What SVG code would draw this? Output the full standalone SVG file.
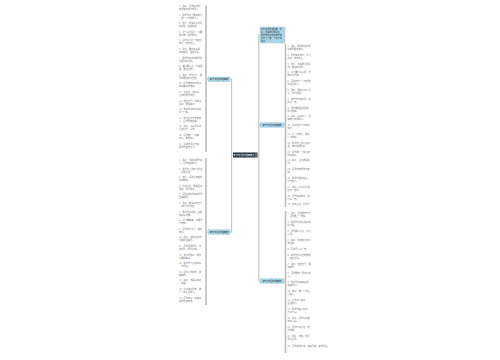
<svg xmlns="http://www.w3.org/2000/svg" width="500" height="360" viewBox="0 0 500 360">
<style>
text{font-family:"Noto Sans CJK SC","Noto Sans",sans-serif;}
.c{font-size:2.2px;fill:#7a7a7a;}
.n{font-size:2.3px;fill:#333;}
.t{font-size:2.1px;fill:#333;}
.w{font-size:2.4px;fill:#fff;}
.ln{stroke:#c8c8c8;stroke-width:1.2;fill:none;}
.bar{stroke:#bdbdbd;stroke-width:1.6;fill:none;}
.bn{fill:#a9d7ea;stroke:#8cc5dc;stroke-width:0.4;}
</style>
<rect width="500" height="360" fill="#fff"/>
<g id="connectors">
<path class="ln" d="M233 155 H231.5 V79 H230 M231.5 155 V232 H230"/>
<path class="ln" d="M257 155 H258.8 V35 H260 M258.8 155 V125 H260 M258.8 155 V281 H260"/>
<path class="ln" d="M208 79 H206.5 M208 232 H206.5 M284 125 H285.5 M284 281 H285.5"/>
<path class="bar" d="M206 5 V152 M206 158 V305 M285.5 44 V207 M285.5 211 V353"/>
</g>
<g id="center"><rect x="233" y="152.5" width="24.5" height="5" fill="#1e2b3a"/><text class="w" x="245.2" y="155.9" text-anchor="middle">家长寄语简短精辟大全</text></g>
<g id="n1"><rect class="bn" x="208" y="77" width="22" height="4.5"/><text class="n" x="219" y="80.1" text-anchor="middle">家长寄语简短精辟</text></g>
<g id="n2"><rect class="bn" x="208" y="229.8" width="22" height="4.5"/><text class="n" x="219" y="232.9" text-anchor="middle">家长寄语简短精辟</text></g>
<g id="n3"><rect class="bn" x="260" y="27" width="25" height="16"/><text class="t" x="261" y="30.3">家长寄语简短精辟：孩</text><text class="t" x="261" y="33.3">子，你是我们的骄傲，</text><text class="t" x="261" y="36.3">希望你在新的学期里努</text><text class="t" x="261" y="39.3">力学习，做一个快乐的</text><text class="t" x="261" y="42.2">孩子。</text></g>
<g id="n4"><rect class="bn" x="260" y="122.8" width="24" height="4.5"/><text class="n" x="272" y="125.9" text-anchor="middle">家长寄语简短精辟</text></g>
<g id="n5"><rect class="bn" x="260" y="278.8" width="24" height="4.5"/><text class="n" x="272" y="281.9" text-anchor="middle">家长寄语简短精辟</text></g>
<g id="left1" class="c">
<text><tspan x="179" y="7">1、孩子，愿你在新的一</tspan><tspan x="179" dy="3">年里健康快乐成长。</tspan></text>
<text><tspan x="179" y="15.6">2、希望你学习更加努力</tspan><tspan x="179" dy="3">，做一个有用的人。</tspan></text>
<text><tspan x="179" y="24.2">3、宝贝，你是爸爸妈妈</tspan><tspan x="179" dy="3">的骄傲，继续加油！</tspan></text>
<text><tspan x="179" y="32.8">4、学习贵在坚持，只要</tspan><tspan x="179" dy="3">努力就一定会成功。</tspan></text>
<text><tspan x="179" y="41.4">5、愿你像小树一样茁壮</tspan><tspan x="179" dy="3">成长，天天向上。</tspan></text>
<text><tspan x="179" y="50">6、孩子，要学会感恩，</tspan><tspan x="179" dy="3">尊敬老师，团结同学。</tspan></text>
<text><tspan x="179" y="58.6">7、希望你在新学期里取</tspan><tspan x="179" dy="3">得更大的进步。</tspan></text>
<text><tspan x="179" y="67.2">8、做事要认真，不怕困</tspan><tspan x="179" dy="3">难，勇往直前。</tspan></text>
<text><tspan x="179" y="75.8">9、孩子，你长大了，希</tspan><tspan x="179" dy="3">望你更加懂事自信。</tspan></text>
<text><tspan x="179" y="84.4">10、愿你拥有快乐的童</tspan><tspan x="179" dy="3">年和美好的未来。</tspan></text>
<text><tspan x="179" y="93">11、多读书，读好书，</tspan><tspan x="179" dy="3">让知识伴你成长。</tspan></text>
<text><tspan x="179" y="101.6">12、相信自己，你是最</tspan><tspan x="179" dy="3">棒的，加油孩子！</tspan></text>
<text><tspan x="179" y="110.2">13、希望你养成良好的</tspan><tspan x="179" dy="3">学习习惯。</tspan></text>
<text><tspan x="179" y="118.8">14、成功属于有准备的</tspan><tspan x="179" dy="3">人，愿你早做准备。</tspan></text>
<text><tspan x="179" y="127.4">15、孩子，爸爸妈妈永</tspan><tspan x="179" dy="3">远支持你，爱你。</tspan></text>
<text><tspan x="179" y="136">16、愿你做一个诚实、</tspan><tspan x="179" dy="3">善良、勇敢的人。</tspan></text>
<text><tspan x="179" y="144.6">17、学海无涯苦作舟，</tspan><tspan x="179" dy="3">希望你勤奋学习。</tspan></text>
</g>
<g id="left2" class="c">
<text><tspan x="179" y="161">1、孩子，新的学期开始</tspan><tspan x="179" dy="3">了，愿你继续努力。</tspan></text>
<text><tspan x="179" y="169.6">2、希望你上课专心听讲</tspan><tspan x="179" dy="3">，积极发言。</tspan></text>
<text><tspan x="179" y="178.2">3、宝贝，愿你每天都有</tspan><tspan x="179" dy="3">新的收获。</tspan></text>
<text><tspan x="179" y="186.8">4、不怕失败，勇敢面对</tspan><tspan x="179" dy="3">挑战，你会成功。</tspan></text>
<text><tspan x="179" y="195.4">5、愿你在知识的海洋里</tspan><tspan x="179" dy="3">自由翱翔。</tspan></text>
<text><tspan x="179" y="204">6、孩子，做最好的自己</tspan><tspan x="179" dy="3">，我们为你骄傲。</tspan></text>
<text><tspan x="179" y="212.6">7、希望你多运动，身体</tspan><tspan x="179" dy="3">健康最重要。</tspan></text>
<text><tspan x="179" y="221.2">8、学习要踏实，不要急</tspan><tspan x="179" dy="3">于求成。</tspan></text>
<text><tspan x="179" y="229.8">9、愿你快乐学习，健康</tspan><tspan x="179" dy="3">成长。</tspan></text>
<text><tspan x="179" y="238.4">10、孩子，你的进步我</tspan><tspan x="179" dy="3">们都看在眼里。</tspan></text>
<text><tspan x="179" y="247">11、愿你团结同学，尊</tspan><tspan x="179" dy="3">敬师长，懂得礼貌。</tspan></text>
<text><tspan x="179" y="255.6">12、努力吧孩子，明天</tspan><tspan x="179" dy="3">会更加美好。</tspan></text>
<text><tspan x="179" y="264.2">13、希望你认真完成每</tspan><tspan x="179" dy="3">一次作业。</tspan></text>
<text><tspan x="179" y="272.8">14、愿你心怀梦想，脚</tspan><tspan x="179" dy="3">踏实地。</tspan></text>
<text><tspan x="179" y="281.4">15、孩子，你是最棒的</tspan><tspan x="179" dy="3">，加油！</tspan></text>
<text><tspan x="179" y="290">16、学会独立思考，做</tspan><tspan x="179" dy="3">一个有主见的人。</tspan></text>
<text><tspan x="179" y="298.6">17、愿你的每一天都充</tspan><tspan x="179" dy="3">满阳光和欢笑。</tspan></text>
</g>
<g id="right1" class="c">
<text><tspan x="287.5" y="47">1、孩子，希望你在新的</tspan><tspan x="287.5" dy="3">学期里更加努力。</tspan></text>
<text><tspan x="287.5" y="55.8">2、愿你健康快乐，学习</tspan><tspan x="287.5" dy="3">进步，天天向上。</tspan></text>
<text><tspan x="287.5" y="64.6">3、宝贝，你是我们的骄</tspan><tspan x="287.5" dy="3">傲，继续努力吧！</tspan></text>
<text><tspan x="287.5" y="73.4">4、学习要持之以恒，不</tspan><tspan x="287.5" dy="3">能半途而废。</tspan></text>
<text><tspan x="287.5" y="82.2">5、愿你成为一个有理想</tspan><tspan x="287.5" dy="3">有担当的人。</tspan></text>
<text><tspan x="287.5" y="91">6、孩子，要学会与人分</tspan><tspan x="287.5" dy="3">享，快乐加倍。</tspan></text>
<text><tspan x="287.5" y="99.8">7、希望你珍惜时间，把</tspan><tspan x="287.5" dy="3">握每一天。</tspan></text>
<text><tspan x="287.5" y="108.6">8、愿你勇敢面对困难，</tspan><tspan x="287.5" dy="3">永不放弃。</tspan></text>
<text><tspan x="287.5" y="117.4">9、孩子，好好学习，将</tspan><tspan x="287.5" dy="3">来做个有用的人。</tspan></text>
<text><tspan x="287.5" y="126.2">10、愿你在学习中找到</tspan><tspan x="287.5" dy="3">快乐。</tspan></text>
<text><tspan x="287.5" y="135">11、多一份努力，就多</tspan><tspan x="287.5" dy="3">一份收获。</tspan></text>
<text><tspan x="287.5" y="143.8">12、希望你上课认真听</tspan><tspan x="287.5" dy="3">讲，按时完成作业。</tspan></text>
<text><tspan x="287.5" y="152.6">13、愿你做一个懂礼貌</tspan><tspan x="287.5" dy="3">的好孩子。</tspan></text>
<text><tspan x="287.5" y="161.4">14、孩子，坚持就是胜</tspan><tspan x="287.5" dy="3">利。</tspan></text>
<text><tspan x="287.5" y="170.2">15、愿你的梦想早日实</tspan><tspan x="287.5" dy="3">现。</tspan></text>
<text><tspan x="287.5" y="179">16、希望你团结友爱，</tspan><tspan x="287.5" dy="3">乐于助人。</tspan></text>
<text><tspan x="287.5" y="187.8">17、孩子，爸爸妈妈相</tspan><tspan x="287.5" dy="3">信你一定行。</tspan></text>
<text><tspan x="287.5" y="196.6">18、愿你健康成长，快</tspan><tspan x="287.5" dy="3">乐每一天。</tspan></text>
<text><tspan x="287.5" y="205.2">19、学无止境，愿你不</tspan></text>
</g>
<g id="right2" class="c">
<text><tspan x="287.5" y="214">1、孩子，新学期新气象</tspan><tspan x="287.5" dy="3">，愿你更上一层楼。</tspan></text>
<text><tspan x="287.5" y="223">2、希望你养成爱读书的</tspan><tspan x="287.5" dy="3">好习惯。</tspan></text>
<text><tspan x="287.5" y="232">3、愿你做事认真，持之</tspan><tspan x="287.5" dy="3">以恒。</tspan></text>
<text><tspan x="287.5" y="241">4、孩子，你的努力终会</tspan><tspan x="287.5" dy="3">有回报。</tspan></text>
<text><tspan x="287.5" y="250">5、愿你开心每一天。</tspan></text>
<text><tspan x="287.5" y="256">6、希望你学会自我管理</tspan><tspan x="287.5" dy="3">，独立自强。</tspan></text>
<text><tspan x="287.5" y="265">7、孩子，相信自己，勇</tspan><tspan x="287.5" dy="3">敢前行。</tspan></text>
<text><tspan x="287.5" y="274">8、愿你拥有一颗善良的</tspan><tspan x="287.5" dy="3">心。</tspan></text>
<text><tspan x="287.5" y="283">9、希望你多锻炼身体，</tspan><tspan x="287.5" dy="3">健康成长。</tspan></text>
<text><tspan x="287.5" y="292">10、孩子，做一个有爱</tspan><tspan x="287.5" dy="3">心的人。</tspan></text>
<text><tspan x="287.5" y="301">11、愿你学习进步，</tspan><tspan x="287.5" dy="3">生活快乐。</tspan></text>
<text><tspan x="287.5" y="310">12、希望你虚心好学，</tspan><tspan x="287.5" dy="3">不骄不躁。</tspan></text>
<text><tspan x="287.5" y="319">13、孩子，愿你每天都</tspan><tspan x="287.5" dy="3">有好心情。</tspan></text>
<text><tspan x="287.5" y="328">14、愿你珍惜青春，努</tspan><tspan x="287.5" dy="3">力拼搏。</tspan></text>
<text><tspan x="287.5" y="337">15、孩子，加油，我们</tspan><tspan x="287.5" dy="3">永远爱你。</tspan></text>
<text><tspan x="287.5" y="347">16、愿你前程似锦，未来可期，梦想成真。</tspan></text>
</g>
</svg>
